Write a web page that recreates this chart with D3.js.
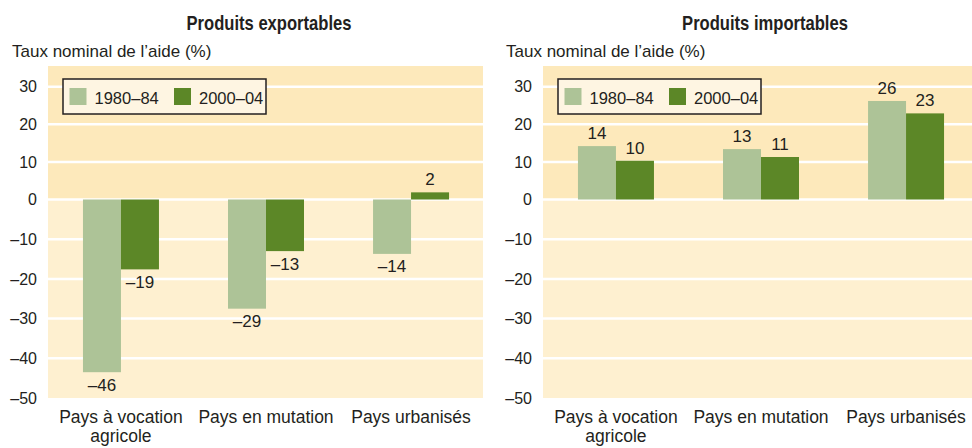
<!DOCTYPE html>
<html>
<head>
<meta charset="utf-8">
<script src="https://cdn.jsdelivr.net/npm/d3@7"></script>
<style>
  html, body { margin: 0; padding: 0; background: #ffffff; }
  svg { display: block; }
  text { fill: #231f20; font-family: "Liberation Sans", Arial, sans-serif; }
</style>
</head>
<body>
<svg id="chart" width="972" height="448"></svg>
<script>
// ---- data ----
const categories = ["Pays à vocation agricole", "Pays en mutation", "Pays urbanisés"];
const series = ["1980–84", "2000–04"];
const panelTitles = ["Produits exportables", "Produits importables"];
const axisTitle = "Taux nominal de l’aide (%)";
// bar heights as drawn
const export1980 = [-43.5, -27.5, -13.7];
const export2000 = [-17.6, -13.0, 1.9];
const import1980 = [14.2, 13.4, 26.2];
const import2000 = [10.3, 11.3, 22.9];
// printed value labels
const exportLabels1980 = ["–46", "–29", "–14"];
const exportLabels2000 = ["–19", "–13", "2"];
const importLabels1980 = ["14", "13", "26"];
const importLabels2000 = ["10", "11", "23"];
const yTicks = [30, 20, 10, 0, -10, -20, -30, -40, -50];
const yTickLabels = ["30", "20", "10", "0", "–10", "–20", "–30", "–40", "–50"];

// ---- style ----
const colors = ["#adc397", "#5c8727"];
const bgPos = "#fde9bb";
const bgNeg = "#fef0d0";

const svg = d3.select("#chart");

const panels = [
  { x0: 48, x1: 483, title: panelTitles[0], titleX: 269, axisX: 12,
    values: [export1980, export2000], labels: [exportLabels1980, exportLabels2000] },
  { x0: 543, x1: 972, title: panelTitles[1], titleX: 765, axisX: 506,
    values: [import1980, import2000], labels: [importLabels1980, importLabels2000] }
];

const yTop = 66, yBottom = 398;
const y = d3.scaleLinear().domain([-50, 0, 35.5]).range([yBottom, 199.5, yTop]);

panels.forEach(p => {
  const g = svg.append("g");

  // titles (condensed bold look)
  g.append("text")
    .attr("transform", `translate(${p.titleX},30) scale(0.83,1)`)
    .attr("text-anchor", "middle")
    .style("font-weight", "bold")
    .style("font-size", "20px")
    .text(p.title);

  g.append("text")
    .attr("x", p.axisX).attr("y", 57)
    .style("font-size", "17px")
    .text(axisTitle);

  // background
  g.append("rect")
    .attr("x", p.x0).attr("y", yTop)
    .attr("width", p.x1 - p.x0).attr("height", y(0) - yTop)
    .attr("fill", bgPos);
  g.append("rect")
    .attr("x", p.x0).attr("y", y(0))
    .attr("width", p.x1 - p.x0).attr("height", yBottom - y(0))
    .attr("fill", bgNeg);

  // gridlines
  g.selectAll("line.grid")
    .data(yTicks.filter(t => t > -50))
    .join("line")
    .attr("class", "grid")
    .attr("x1", p.x0).attr("x2", p.x1)
    .attr("y1", d => y(d)).attr("y2", d => y(d))
    .attr("stroke", "#ffffff")
    .attr("stroke-width", 2.5);

  // y tick labels
  g.selectAll("text.tick")
    .data(yTicks)
    .join("text")
    .attr("class", "tick")
    .attr("x", p.x0 - 11)
    .attr("y", d => y(d))
    .attr("dy", "0.36em")
    .attr("text-anchor", "end")
    .style("font-size", "16px")
    .text((d, i) => yTickLabels[i]);

  // x scales
  const x = d3.scaleBand()
    .domain(categories)
    .range([p.x0, p.x0 + 436])
    .paddingInner(0.476)
    .paddingOuter(0.241);
  const xs = d3.scaleBand().domain(series).range([0, x.bandwidth()]);

  // bars
  series.forEach((s, si) => {
    const vals = p.values[si];
    g.selectAll("rect.bar" + si)
      .data(categories)
      .join("rect")
      .attr("class", "bar" + si)
      .attr("x", c => x(c) + xs(s))
      .attr("width", xs.bandwidth())
      .attr("y", (c, i) => Math.min(y(0), y(vals[i])))
      .attr("height", (c, i) => Math.abs(y(vals[i]) - y(0)))
      .attr("fill", colors[si]);

    g.selectAll("text.val" + si)
      .data(categories)
      .join("text")
      .attr("class", "val" + si)
      .attr("x", c => x(c) + xs(s) + xs.bandwidth() / 2)
      .attr("y", (c, i) => vals[i] >= 0 ? y(vals[i]) - 7 : y(vals[i]) + 18.5)
      .attr("text-anchor", "middle")
      .style("font-size", "17px")
      .text((c, i) => p.labels[si][i]);
  });

  // category labels
  const catLines = [["Pays à vocation", "agricole"], ["Pays en mutation"], ["Pays urbanisés"]];
  categories.forEach((c, i) => {
    const t = g.append("text")
      .attr("x", x(c) + x.bandwidth() / 2)
      .attr("y", 422.5)
      .attr("text-anchor", "middle")
      .style("font-size", "17.5px");
    catLines[i].forEach((line, li) => {
      t.append("tspan")
        .attr("x", x(c) + x.bandwidth() / 2)
        .attr("dy", li === 0 ? 0 : 19.5)
        .text(line);
    });
  });

  // legend
  const lx = p.x0 + 15, ly = 79;
  const lg = g.append("g");
  lg.append("rect")
    .attr("x", lx).attr("y", ly)
    .attr("width", 203).attr("height", 35)
    .attr("fill", "#fef5e2")
    .attr("stroke", "#231f20")
    .attr("stroke-width", 1.5);
  const itemX = [6.5, 111];
  series.forEach((s, si) => {
    lg.append("rect")
      .attr("x", lx + itemX[si]).attr("y", ly + 9)
      .attr("width", 17).attr("height", 17)
      .attr("fill", colors[si]);
    lg.append("text")
      .attr("x", lx + itemX[si] + 25).attr("y", ly + 24.5)
      .style("font-size", "16.5px")
      .text(s);
  });
});
</script>
</body>
</html>
